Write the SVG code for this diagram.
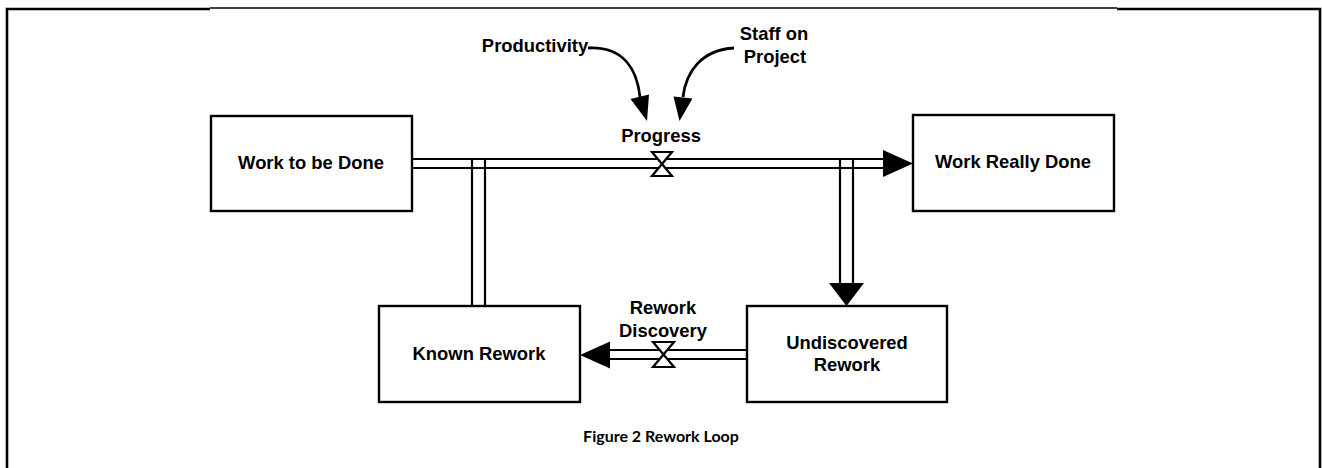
<svg xmlns="http://www.w3.org/2000/svg" width="1322" height="468" viewBox="0 0 1322 468">
<style>
.box{fill:#fff;stroke:#000;stroke-width:2.4}
.pipe{fill:none;stroke:#000;stroke-width:2.2}
.lbl{font-family:"Liberation Sans",Arial,sans-serif;font-weight:bold;font-size:18.4px;fill:#000;text-anchor:middle}
.valve{fill:#fff;stroke:#000;stroke-width:2.2;stroke-linejoin:miter}
.head{fill:#000;stroke:none}
.link{fill:none;stroke:#000;stroke-width:2.8}
.cap{font-family:Lato,"Open Sans",sans-serif;font-weight:bold;font-size:16px;fill:#000;text-anchor:middle}
</style>
<rect width="1322" height="468" fill="#fff"/>
<g id="frame" fill="none" stroke="#000">
<path d="M7,468 V9 H210" stroke-width="2.6"/>
<path d="M210,8 H1117" stroke-width="1.3"/>
<path d="M1117,9 H1320 V468" stroke-width="2.6"/>
</g>
<g id="connectors">
<path class="pipe" d="M412,159 H884 M412,168 H884"/>
<path class="pipe" d="M472,159 V306 M485,159 V306"/>
<path class="pipe" d="M840,159 V284 M853,159 V284"/>
<polygon class="head" points="883,150 913,163.5 883,177"/>
<polygon class="head" points="829,283 864,283 846.5,306"/>
<path class="pipe" d="M608,350 H747 M608,359 H747"/>
<polygon class="head" points="610,341.5 580,355 610,368.5"/>
<polygon class="valve" points="652,152 672,152 652,176 672,176"/>
<polygon class="valve" points="653,342 674,342 653,367 674,367"/>
<path class="link" d="M588,48 C624,46 637,70 640,97"/>
<polygon class="head" points="630.5,99 649,94.5 647,121"/>
<path class="link" d="M734,48 C701,50 686,72 683,97"/>
<polygon class="head" points="673.5,96.5 692.5,98.5 679.5,121"/>
</g>
<g id="work-to-be-done">
<rect class="box" x="211" y="116" width="201" height="95"/>
<text class="lbl" x="311" y="169">Work to be Done</text>
</g>
<g id="work-really-done">
<rect class="box" x="913" y="115" width="201" height="96"/>
<text class="lbl" x="1013" y="168">Work Really Done</text>
</g>
<g id="known-rework">
<rect class="box" x="379" y="306" width="201" height="96"/>
<text class="lbl" x="479" y="360">Known Rework</text>
</g>
<g id="undiscovered-rework">
<rect class="box" x="747" y="306" width="200" height="96"/>
<text class="lbl" x="847" y="349">Undiscovered</text>
<text class="lbl" x="847" y="371">Rework</text>
</g>
<g id="progress">
<text class="lbl" x="661" y="142">Progress</text>
</g>
<g id="productivity">
<text class="lbl" x="535" y="52">Productivity</text>
</g>
<g id="staff-on-project">
<text class="lbl" x="774" y="40">Staff on</text>
<text class="lbl" x="775" y="63">Project</text>
</g>
<g id="rework-discovery">
<text class="lbl" x="663" y="314">Rework</text>
<text class="lbl" x="663" y="337">Discovery</text>
</g>
<g id="caption">
<text class="cap" x="661" y="442">Figure 2 Rework Loop</text>
</g>
</svg>
